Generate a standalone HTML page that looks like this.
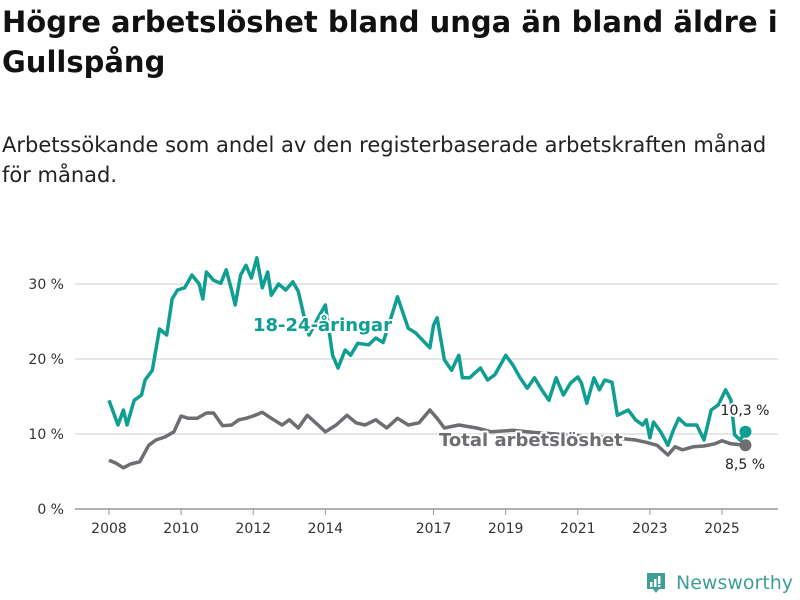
<!DOCTYPE html>
<html><head><meta charset="utf-8">
<style>
body{margin:0;background:#fff;font-family:"DejaVu Sans","Liberation Sans",sans-serif;}
#wrap{position:relative;width:800px;height:600px;overflow:hidden;}
h1{position:absolute;left:2px;top:2px;margin:0;font-size:29px;line-height:40px;font-weight:bold;color:#111;width:798px;}
.sub{position:absolute;left:2px;top:130px;margin:0;font-size:21px;line-height:30px;color:#222;width:790px;}
svg{position:absolute;left:0;top:0;}
</style></head><body>
<div id="wrap">
<h1>Högre arbetslöshet bland unga än bland äldre i Gullspång</h1>
<p class="sub">Arbetssökande som andel av den registerbaserade arbetskraften månad<br>för månad.</p>
<svg id="chart" width="800" height="600"></svg>
</div>
<script>
const yTicks=[0,10,20,30];
const xTicks=[2008,2010,2012,2014,2017,2019,2021,2023,2025];
const youthDates=[2008.0,2008.25,2008.4,2008.5,2008.7,2008.9,2009.0,2009.2,2009.4,2009.6,2009.75,2009.9,2010.1,2010.3,2010.5,2010.6,2010.7,2010.9,2011.1,2011.25,2011.4,2011.5,2011.65,2011.8,2011.95,2012.1,2012.25,2012.4,2012.5,2012.7,2012.9,2013.1,2013.25,2013.4,2013.55,2013.8,2014.0,2014.2,2014.35,2014.55,2014.7,2014.9,2015.2,2015.4,2015.6,2015.8,2016.0,2016.3,2016.5,2016.7,2016.9,2017.0,2017.1,2017.3,2017.5,2017.7,2017.8,2018.0,2018.3,2018.5,2018.7,2018.9,2019.0,2019.2,2019.4,2019.6,2019.8,2020.0,2020.2,2020.4,2020.6,2020.8,2021.0,2021.1,2021.25,2021.45,2021.6,2021.75,2021.95,2022.1,2022.4,2022.6,2022.8,2022.9,2023.0,2023.1,2023.3,2023.5,2023.65,2023.8,2024.0,2024.3,2024.5,2024.7,2024.9,2025.1,2025.25,2025.35,2025.5,2025.65];
const youthValues=[14.5,11.2,13.2,11.2,14.5,15.2,17.2,18.5,24,23.2,28,29.2,29.5,31.2,30,28,31.6,30.5,30.1,31.9,29.2,27.2,31.2,32.5,30.8,33.5,29.5,31.6,28.5,30,29.2,30.3,29,25.9,23.2,25.5,27.2,20.5,18.8,21.2,20.5,22.1,21.9,22.8,22.2,25.2,28.3,24.1,23.5,22.5,21.5,24.5,25.5,19.9,18.5,20.5,17.5,17.5,18.8,17.2,17.9,19.6,20.5,19.2,17.5,16.1,17.5,15.9,14.5,17.5,15.2,16.8,17.6,16.8,14.1,17.5,15.9,17.2,16.9,12.5,13.2,11.9,11.2,11.9,9.5,11.6,10.3,8.5,10.5,12.1,11.2,11.2,9.2,13.2,13.9,15.9,14.5,9.9,9.2,10.3];
const totalDates=[2008.0,2008.2,2008.4,2008.6,2008.85,2009.1,2009.3,2009.55,2009.8,2010.0,2010.2,2010.45,2010.7,2010.9,2011.15,2011.4,2011.6,2011.8,2012.0,2012.25,2012.5,2012.8,2013.0,2013.25,2013.5,2013.8,2014.0,2014.3,2014.6,2014.85,2015.1,2015.4,2015.7,2016.0,2016.3,2016.6,2016.9,2017.1,2017.3,2017.7,2018.2,2018.6,2019.2,2019.8,2020.4,2021.0,2021.6,2022.2,2022.6,2022.9,2023.2,2023.5,2023.7,2023.9,2024.2,2024.5,2024.8,2025.0,2025.25,2025.65];
const totalValues=[6.5,6.1,5.5,6,6.3,8.5,9.2,9.6,10.3,12.4,12.1,12.1,12.8,12.8,11.1,11.2,11.9,12.1,12.4,12.9,12.1,11.2,11.9,10.8,12.5,11.2,10.3,11.2,12.5,11.5,11.2,11.9,10.8,12.1,11.2,11.5,13.2,12.1,10.8,11.2,10.8,10.3,10.5,10.2,10,9.8,9.6,9.4,9.2,8.9,8.5,7.2,8.3,7.9,8.3,8.4,8.7,9.1,8.7,8.5];
const NS="http://www.w3.org/2000/svg";
const svg=document.getElementById('chart');
const X=d=>109+(d-2008)*36.06;
const Y=v=>509-v*7.5;
function mk(t,a){const e=document.createElementNS(NS,t);for(const k in a)e.setAttribute(k,a[k]);svg.appendChild(e);return e;}
yTicks.forEach(v=>{
  const g=mk('line',{x1:75,x2:778,y1:Y(v),y2:Y(v),stroke:v===0?'#999':'#ddd','stroke-width':1.5});
  
  
  const t=mk('text',{x:64,y:Y(v)+5,'text-anchor':'end','font-size':14,fill:'#333'});
  t.textContent=v+' %';
  
  
});
xTicks.forEach(y=>{
  const l=mk('line',{x1:X(y),x2:X(y),y1:509,y2:515,stroke:'#999'});
  
  
  const t=mk('text',{x:X(y),y:533,'text-anchor':'middle','font-size':14,fill:'#333'});
  t.textContent=y;
  
  
});
function path(ds,vs){return ds.map((d,i)=>(i?'L':'M')+X(d).toFixed(1)+','+Y(vs[i]).toFixed(1)).join('');}
const pt=mk('path',{d:path(totalDates,totalValues),fill:'none',stroke:'#6e6d72','stroke-width':3.5,'stroke-linejoin':'round'});


const py=mk('path',{d:path(youthDates,youthValues),fill:'none',stroke:'#0e9e92','stroke-width':3.5,'stroke-linejoin':'round'});


const lt=totalDates.length-1, ly=youthDates.length-1;
const d1=mk('circle',{cx:X(totalDates[lt]),cy:Y(totalValues[lt]),r:6,fill:'#6e6d72'});


const d2=mk('circle',{cx:X(youthDates[ly]),cy:Y(youthValues[ly]),r:6,fill:'#0e9e92'});


function lab(txt,x,y,fs,fw,col,anchor,name){
  const t=mk('text',{x:x,y:y,'font-size':fs,'font-weight':fw,fill:col,'text-anchor':anchor,stroke:'#fff','stroke-width':4,'paint-order':'stroke','stroke-linejoin':'round'});
  t.textContent=txt;
  
  
}
lab('18-24-åringar',253,331,18,'bold','#0e9e92','start','youth-series-label');
lab('Total arbetslöshet',439,446,18,'bold','#6e6d72','start','total-series-label');
lab('10,3 %',745,415,14,'normal','#222','middle','youth-end-value');
lab('8,5 %',745,469,14,'normal','#222','middle','total-end-value');
</script>
<div style="position:absolute;left:645px;top:570px;height:26px;display:flex;align-items:center;">
<svg width="22" height="24" style="position:static" viewBox="0 0 22 24"><path d="M2 2h18v16h-6l-3 4-3-4H2z" fill="#3f9e95"/><rect x="5" y="11" width="2.5" height="5" fill="#fff"/><rect x="9" y="8" width="2.5" height="8" fill="#fff"/><rect x="13" y="5" width="2.5" height="8" fill="#fff"/><rect x="13" y="14" width="2.5" height="2" fill="#fff"/></svg>
<span style="margin-left:9px;font-size:19px;color:#3f9e95;font-weight:500;">Newsworthy</span>
</div>
</body></html>
